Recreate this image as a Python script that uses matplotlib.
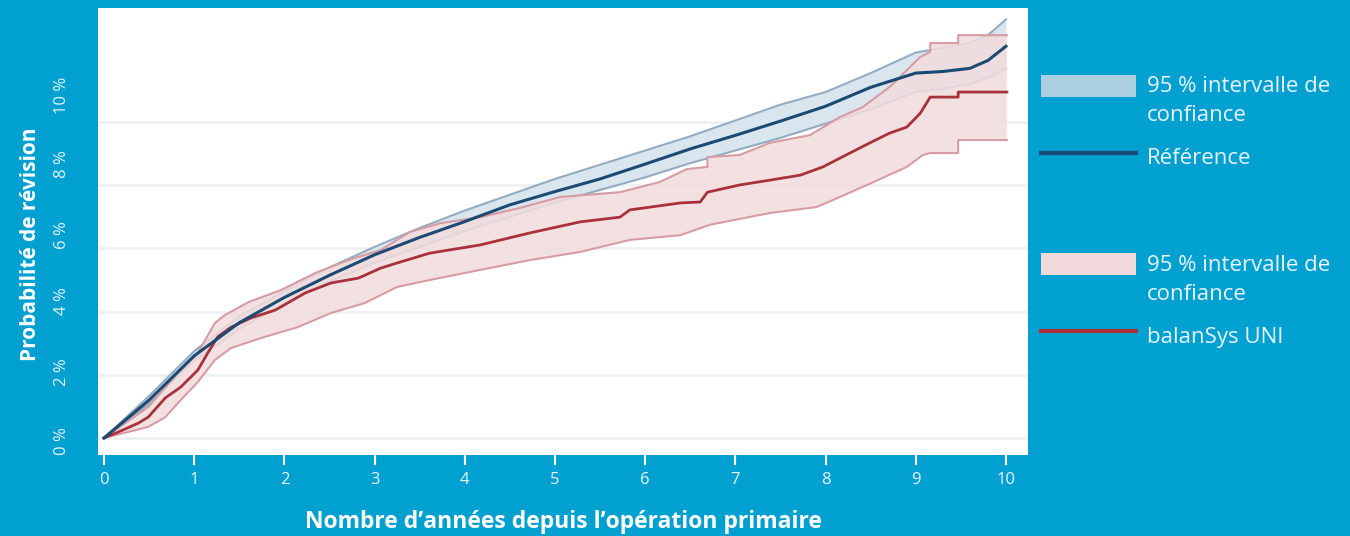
import numpy as np
import matplotlib.pyplot as plt
import matplotlib.transforms as mtransforms
from matplotlib.patches import Rectangle
from matplotlib.lines import Line2D

plt.rcParams['font.family'] = ['Open Sans', 'DejaVu Sans']

# Couleurs
fond = '#00a0d1'
texte = '#e8f4fa'
bleu = '#1b4a74'
bleu_bord = '#93acc2'
bleu_ic = '#d9e6ee'
bleu_leg = '#abcfe1'
rouge = '#a8313c'
rouge_bord = '#d79ca3'
rouge_ic = '#f2dcdd'
rouge_leg = '#f1d8db'

# Référence (courbe + intervalle de confiance 95 %)
ref_annees = [0, 0.5, 1.0, 1.5, 2.0, 2.5, 3.0, 3.5, 4.0, 4.5, 5.0, 5.5, 6.0,
              6.5, 7.0, 7.5, 8.0, 8.5, 9.0, 9.3, 9.6, 9.8, 10.0]
ref_prob = [0, 1.2, 2.6, 3.65, 4.45, 5.15, 5.8, 6.35, 6.85, 7.38, 7.8, 8.2,
            8.67, 9.15, 9.58, 10.03, 10.5, 11.1, 11.55, 11.6, 11.7, 11.95, 12.4]
ref_haut = [0, 1.33, 2.75, 3.85, 4.65, 5.4, 6.05, 6.65, 7.2, 7.7, 8.2, 8.65,
            9.1, 9.55, 10.05, 10.55, 10.95, 11.55, 12.2, 12.35, 12.5, 12.75, 13.25]
ref_bas = [0, 1.08, 2.45, 3.45, 4.25, 4.95, 5.55, 6.05, 6.55, 7.0, 7.45, 7.85,
           8.25, 8.7, 9.1, 9.5, 9.95, 10.4, 10.95, 11.05, 11.2, 11.4, 11.7]

# balanSys UNI
uni_annees = [0, 0.16, 0.38, 0.49, 0.68, 0.85, 1.04, 1.15, 1.26, 1.41, 1.63,
              1.90, 2.23, 2.52, 2.82, 3.07, 3.25, 3.61, 4.17, 4.72, 5.28, 5.72,
              5.83, 6.39, 6.61, 6.69, 7.05, 7.38, 7.72, 7.97, 8.27, 8.49, 8.71,
              8.90, 9.05, 9.16, 9.47, 9.47, 10.01]
uni_prob = [0, 0.19, 0.47, 0.66, 1.27, 1.61, 2.15, 2.69, 3.20, 3.51, 3.80,
            4.05, 4.59, 4.91, 5.06, 5.38, 5.54, 5.85, 6.11, 6.49, 6.84, 6.99,
            7.22, 7.44, 7.47, 7.78, 8.01, 8.16, 8.32, 8.58, 9.02, 9.34, 9.65,
            9.84, 10.28, 10.79, 10.79, 10.95, 10.95]

uni_haut_annees = [0, 0.49, 0.82, 1.04, 1.23, 1.34, 1.60, 1.96, 2.34, 2.71,
                   3.07, 3.39, 3.73, 4.17, 4.61, 5.06, 5.72, 6.16, 6.46, 6.69,
                   6.69, 7.05, 7.38, 7.83, 8.16, 8.41, 8.71, 9.05, 9.16, 9.16,
                   9.47, 9.47, 10.01]
uni_haut = [0, 0.98, 2.06, 2.69, 3.64, 3.89, 4.30, 4.68, 5.22, 5.63, 5.95,
            6.52, 6.80, 6.99, 7.28, 7.63, 7.78, 8.10, 8.51, 8.58, 8.89, 8.96,
            9.34, 9.59, 10.16, 10.47, 11.11, 12.06, 12.22, 12.50, 12.50, 12.75,
            12.75]

uni_bas_annees = [0, 0.49, 0.68, 0.85, 1.04, 1.23, 1.41, 1.78, 2.15, 2.52,
                  2.89, 3.25, 3.61, 4.17, 4.72, 5.28, 5.83, 6.39, 6.72, 7.38,
                  7.90, 8.16, 8.53, 8.90, 9.08, 9.16, 9.47, 9.47, 10.01]
uni_bas = [0, 0.35, 0.66, 1.20, 1.77, 2.47, 2.85, 3.20, 3.51, 3.96, 4.27,
           4.78, 5.00, 5.32, 5.63, 5.89, 6.27, 6.42, 6.75, 7.12, 7.31, 7.63,
           8.10, 8.58, 8.96, 9.02, 9.02, 9.43, 9.43]

x_ticks = list(range(0, 11))
y_ticks = [0, 2, 4, 6, 8, 10]
y_labels = ['0 %', '2 %', '4 %', '6 %', '8 %', '10 %']
# décalage vertical des étiquettes (px), comme dans l'original
y_decal = [-3, 3, 11, 13, 21, 27]

W, H = 1350, 536
fig = plt.figure(figsize=(W / 100, H / 100), dpi=100, facecolor=fond)
ax = fig.add_axes([98 / W, 1 - 455 / H, 930 / W, 447 / H])
ax.set_facecolor('white')

# IC référence
ax.fill_between(ref_annees, ref_bas, ref_haut, color=bleu_ic, lw=0, zorder=1)
ax.plot(ref_annees, ref_haut, color=bleu_bord, lw=1.5, zorder=2)
ax.plot(ref_annees, ref_bas, color=bleu_bord, lw=1.5, zorder=2)

# IC balanSys UNI
px = np.r_[uni_haut_annees, uni_bas_annees[::-1]]
py = np.r_[uni_haut, uni_bas[::-1]]
ax.fill(px, py, color=rouge_ic, alpha=0.85, lw=0, zorder=3)
ax.plot(uni_haut_annees, uni_haut, color=rouge_bord, lw=1.5, zorder=4)
ax.plot(uni_bas_annees, uni_bas, color=rouge_bord, lw=1.5, zorder=4)

ax.plot(uni_annees, uni_prob, color=rouge, lw=2, zorder=5)
ax.plot(ref_annees, ref_prob, color=bleu, lw=2.2, zorder=6)

ax.set_xlim(-0.0665, 10.244)
ax.set_ylim(-0.538, 13.61)
ax.set_xticks(x_ticks)
ax.set_yticks(y_ticks)
ax.grid(axis='y', color='#edf1f4', lw=2, zorder=0)
ax.set_axisbelow(True)
for s in ax.spines.values():
    s.set_visible(False)

ax.tick_params(axis='x', colors='white', labelcolor=texte, length=7, width=1.5,
               pad=5, labelsize=12)
ax.tick_params(axis='y', length=0, labelleft=False)

trans = mtransforms.blended_transform_factory(ax.transAxes, ax.transData)
for v, lab, d in zip(y_ticks, y_labels, y_decal):
    off = mtransforms.ScaledTranslation(0, d / 100, fig.dpi_scale_trans)
    ax.text(-0.0387, v, lab, transform=trans + off, rotation=90,
            rotation_mode='anchor', ha='center', va='center', fontsize=12,
            color=texte)

ax.set_xlabel("Nombre d\u2019années depuis l\u2019opération primaire",
              fontsize=16.5, fontweight='bold', color='white', va='center')
ax.xaxis.set_label_coords(0.5, -0.1499)
ax.set_ylabel('Probabilité de révision', fontsize=15, fontweight='bold',
              color='white', va='center')
ax.yaxis.set_label_coords(-0.0731, 0.472)


# Légende
def fx(p):
    return p / W


def fy(p):
    return 1 - p / H


fig.add_artist(Rectangle((fx(1041), fy(97)), 95 / W, 22 / H,
                         transform=fig.transFigure, color=bleu_leg, lw=0))
fig.add_artist(Line2D([fx(1041), fx(1136)], [fy(153)] * 2,
                      transform=fig.transFigure, color=bleu, lw=3))
fig.add_artist(Rectangle((fx(1041), fy(275)), 95 / W, 22 / H,
                         transform=fig.transFigure, color=rouge_leg, lw=0))
fig.add_artist(Line2D([fx(1041), fx(1136)], [fy(331)] * 2,
                      transform=fig.transFigure, color=rouge, lw=3))

leg_kw = dict(fontsize=16, color=texte, va='center', ha='left', linespacing=1.45)
fig.text(fx(1147), fy(101), '95 % intervalle de\nconfiance', **leg_kw)
fig.text(fx(1147), fy(159), 'Référence', **leg_kw)
fig.text(fx(1147), fy(280), '95 % intervalle de\nconfiance', **leg_kw)
fig.text(fx(1147), fy(338), 'balanSys UNI', **leg_kw)

fig.savefig('out.png', dpi=100, facecolor=fond)
